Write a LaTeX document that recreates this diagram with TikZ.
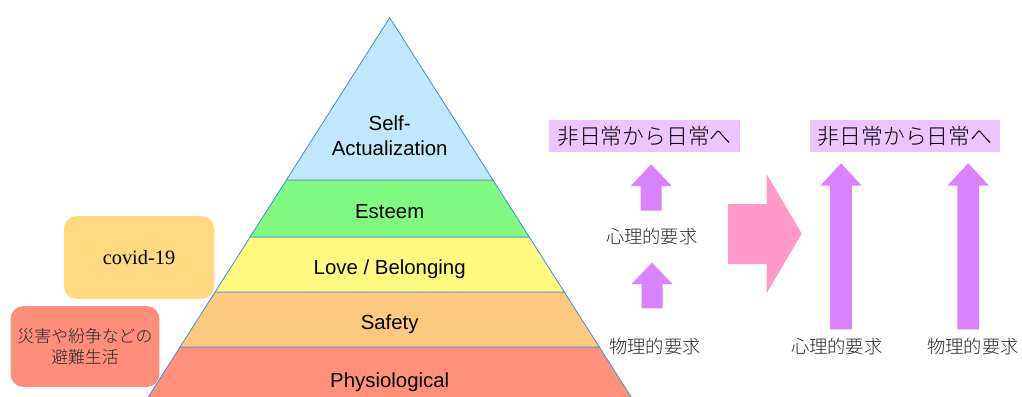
\documentclass[tikz,border=0pt]{standalone}
\usepackage{fontspec}
\setmainfont{Liberation Sans}
\newfontfamily\serifjp{Liberation Serif}
\newfontfamily\jpfont{Noto Sans CJK JP}[UprightFont=* Light]
\usetikzlibrary{arrows.meta, positioning, calc}
\definecolor{cself}{HTML}{C0E8FC}
\definecolor{cesteem}{HTML}{80FA80}
\definecolor{clove}{HTML}{FFFA80}
\definecolor{csafety}{HTML}{FDC880}
\definecolor{cphys}{HTML}{FF907A}
\definecolor{cedge}{HTML}{4A8FD8}
\definecolor{ccovid}{HTML}{FFD980}
\definecolor{cdisaster}{HTML}{FF8E7A}
\definecolor{clavender}{HTML}{EBC5FF}
\definecolor{cviolet}{HTML}{D982FF}
\definecolor{cpink}{HTML}{FF99C8}
\tikzset{
  every picture/.style={line width=0.6pt},
  layer/.style={fill=#1, draw=cedge, line width=0.6pt},
  lvl/.style={font=\fontsize{14.5}{17.8}\selectfont, align=center, inner sep=0pt},
  tag/.style={fill=#1, rounded corners=9pt, align=center},
  goal/.style={fill=clavender, minimum width=4.75cm, minimum height=0.8cm, inner sep=0pt,
    font=\jpfont\fontsize{15.5}{18}\selectfont},
  need/.style={font=\jpfont\fontsize{13}{15}\selectfont, text=black!85, inner sep=0pt},
}
% up-pointing block arrow: centre x, bottom y, head base y, tip y, shaft half, head half
\newcommand{\blockup}[6]{%
  \fill[cviolet] (#1-#5,#2) -- (#1-#5,#3) -- (#1-#6,#3) -- (#1,#4)
    -- (#1+#6,#3) -- (#1+#5,#3) -- (#1+#5,#2) -- cycle;}

\begin{document}
\begin{tikzpicture}[x=0.025cm, y=-0.025cm]
  \useasboundingbox (0,0) rectangle (1022,396);
  % ---------- pyramid
  \begin{scope}
  \clip (0,0) rectangle (1022,396);
  \filldraw[layer=cphys] (180.1,347) -- (599.3,347) -- (634,401.5) -- (145.4,401.5) -- cycle;
  \filldraw[layer=csafety] (215.1,292) -- (564.3,292) -- (599.3,347) -- (180.1,347) -- cycle;
  \filldraw[layer=clove] (250.1,237) -- (529.3,237) -- (564.3,292) -- (215.1,292) -- cycle;
  \filldraw[layer=cesteem] (286.4,180) -- (493,180) -- (529.3,237) -- (250.1,237) -- cycle;
  \filldraw[layer=cself] (389.7,17.7) -- (493,180) -- (286.4,180) -- cycle;
  \end{scope}
  \node[lvl] (self) at (389.7,136) {Self-\\Actualization};
  \node[lvl] (esteem) at (389.7,212) {Esteem};
  \node[lvl] (love) at (389.7,269) {Love / Belonging};
  \node[lvl] (safety) at (389.7,324) {Safety};
  \node[lvl] (phys) at (389.7,382) {Physiological};
  % ---------- causes
  \node[tag=ccovid, minimum width=3.75cm, minimum height=2.07cm,
    font=\serifjp\fontsize{14.5}{17}\selectfont] (covid) at (139,257.5) {covid-19};
  \node[tag=cdisaster, minimum width=3.72cm, minimum height=2.02cm,
    font=\jpfont\fontsize{12}{15.2}\selectfont, text=black!85] (disaster) at (85,346.5)
    {災害や紛争などの\\避難生活};
  % ---------- step by step
  \node[goal] (goalA) at (644.5,136) {非日常から日常へ};
  \blockup{651.2}{210.7}{186}{164.3}{10.5}{20.5}
  \node[need] (mentalA) at (651.7,236.5) {心理的要求};
  \blockup{652}{308.3}{284}{262.7}{10.5}{20.5}
  \node[need] (bodyA) at (655,347) {物理的要求};
  % ---------- shift
  \fill[cpink] (728,204) -- (766.7,204) -- (766.7,174) -- (801.7,233.6)
    -- (766.7,293.3) -- (766.7,264) -- (728,264) -- cycle;
  % ---------- both at once
  \node[goal] (goalB) at (905,136.3) {非日常から日常へ};
  \blockup{841}{329.3}{185.7}{163.3}{10.8}{20.8}
  \blockup{968.2}{329.3}{185.7}{163.3}{10.8}{20.8}
  \node[need] (mentalB) at (836.7,347) {心理的要求};
  \node[need] (bodyB) at (973,347) {物理的要求};
\end{tikzpicture}
\end{document}
